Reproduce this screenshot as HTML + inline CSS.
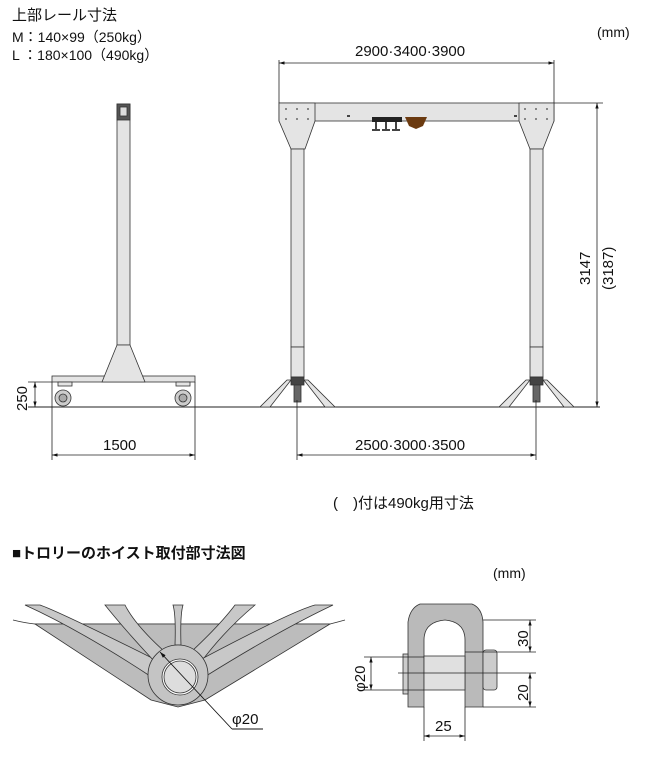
<!DOCTYPE html>
<html><head><meta charset="utf-8"><style>
html,body{margin:0;padding:0;background:#fff;}
svg{display:block;}
text{font-family:"Liberation Sans","Noto Sans CJK JP",sans-serif;fill:#111;}
</style></head><body>
<svg width="650" height="760" viewBox="0 0 650 760" xmlns="http://www.w3.org/2000/svg">
<defs>
<marker id="a" viewBox="0 0 10 10" refX="10" refY="5" markerWidth="7" markerHeight="7" orient="auto-start-reverse"><path d="M0,2 L10,5 L0,8 Z" fill="#111"/></marker>
</defs>
<text x="12" y="20" font-size="15">上部レール寸法</text>
<text x="12" y="42" font-size="14">M：140×99（250kg）</text>
<text x="12" y="60" font-size="14">L ：180×100（490kg）</text>
<text x="597" y="37" font-size="14">(mm)</text>

<line x1="28" y1="407" x2="600" y2="407" stroke="#222" stroke-width="0.9"/>

<g stroke="#333" stroke-width="0.8" fill="#e4e4e4">
<rect x="117" y="104" width="13" height="241"/>
<rect x="117" y="104" width="13" height="16" fill="#555"/>
<rect x="120" y="107" width="7" height="9" fill="#ddd"/>
<rect x="52" y="376" width="143" height="6"/>
<polygon points="117,345 130,345 145,382 102,382"/>
<rect x="58" y="382" width="14" height="4"/>
<rect x="176" y="382" width="14" height="4"/>
<circle cx="63" cy="398" r="8" fill="#ccc"/>
<circle cx="63" cy="398" r="4" fill="#aaa"/>
<circle cx="183" cy="398" r="8" fill="#ccc"/>
<circle cx="183" cy="398" r="4" fill="#aaa"/>
</g>
<g stroke="#222" stroke-width="0.8" fill="none">
<line x1="28" y1="382" x2="52" y2="382"/>
<line x1="35" y1="382" x2="35" y2="407" marker-start="url(#a)" marker-end="url(#a)"/>
<line x1="52" y1="382" x2="52" y2="460"/>
<line x1="195" y1="382" x2="195" y2="460"/>
<line x1="52" y1="455" x2="195" y2="455" marker-start="url(#a)" marker-end="url(#a)"/>
</g>
<text x="0" y="0" font-size="15" transform="translate(27,411) rotate(-90)">250</text>
<text x="103" y="450" font-size="15">1500</text>

<g stroke="#333" stroke-width="0.8" fill="#e4e4e4">
<rect x="279" y="103" width="275" height="18"/>
<polygon points="279,103 315,103 315,121 305,149 291,149 279,121"/>
<polygon points="519,103 554,103 554,121 543,149 530,149 519,121"/>
<rect x="291" y="149" width="13" height="198"/>
<rect x="530" y="149" width="13" height="198"/>
<rect x="291" y="347" width="13" height="30"/>
<rect x="530" y="347" width="13" height="30"/>
<polygon points="287,380 291,380 270,407 260,407"/>
<polygon points="304,380 308,380 335,407 325,407"/>
<polygon points="526,380 530,380 509,407 499,407"/>
<polygon points="543,380 547,380 574,407 564,407"/>
<rect x="291" y="377" width="13" height="8" fill="#444"/>
<rect x="530" y="377" width="13" height="8" fill="#444"/>
<rect x="294" y="385" width="7" height="17" fill="#666"/>
<rect x="533" y="385" width="7" height="17" fill="#666"/>
</g>
<g fill="#444">
<circle cx="286" cy="109" r="0.9"/><circle cx="297" cy="109" r="0.9"/><circle cx="308" cy="109" r="0.9"/>
<circle cx="286" cy="119" r="0.9"/><circle cx="297" cy="119" r="0.9"/><circle cx="308" cy="119" r="0.9"/>
<circle cx="525" cy="109" r="0.9"/><circle cx="536" cy="109" r="0.9"/><circle cx="547" cy="109" r="0.9"/>
<circle cx="525" cy="119" r="0.9"/><circle cx="536" cy="119" r="0.9"/><circle cx="547" cy="119" r="0.9"/>
<rect x="347" y="115" width="3" height="2"/><rect x="514" y="115" width="3" height="2"/>
<rect x="372" y="117" width="30" height="5" fill="#222"/>
<rect x="375" y="122" width="2" height="8"/><rect x="385" y="122" width="2" height="8"/><rect x="395" y="122" width="2" height="8"/>
<rect x="372" y="129" width="8" height="2"/><rect x="382" y="129" width="8" height="2"/><rect x="392" y="129" width="8" height="2"/>
<polygon points="405,117 427,117 423,126 416,129 409,126" fill="#6b3a10"/>
</g>
<g stroke="#222" stroke-width="0.8" fill="none">
<line x1="279" y1="60" x2="279" y2="103"/>
<line x1="554" y1="60" x2="554" y2="103"/>
<line x1="279" y1="63" x2="554" y2="63" marker-start="url(#a)" marker-end="url(#a)"/>
<line x1="554" y1="103" x2="603" y2="103"/>
<line x1="597" y1="103" x2="597" y2="407" marker-start="url(#a)" marker-end="url(#a)"/>
<line x1="297" y1="400" x2="297" y2="460"/>
<line x1="536" y1="400" x2="536" y2="460"/>
<line x1="297" y1="455" x2="536" y2="455" marker-start="url(#a)" marker-end="url(#a)"/>
</g>
<text x="355" y="56" font-size="15">2900·3400·3900</text>
<text x="0" y="0" font-size="15" transform="translate(590,285) rotate(-90)">3147</text>
<text x="0" y="0" font-size="15" transform="translate(613,290) rotate(-90)">(3187)</text>
<text x="355" y="450" font-size="15">2500·3000·3500</text>
<text x="333" y="508" font-size="15">(　)付は490kg用寸法</text>

<text x="12" y="558" font-size="15" font-weight="bold">■トロリーのホイスト取付部寸法図</text>
<text x="493" y="578" font-size="14">(mm)</text>

<g stroke="#333" stroke-width="0.8">
<path d="M13,620 Q25,623 35,624 L330,624 Q338,622 345,620" fill="none"/>
<polygon points="35,624 330,624 205,700 178,707 151,700" fill="#bcbcbc"/>
<path d="M25,605 L40,605 Q60,612 160,662 L150,676 Q80,630 25,605 Z" fill="#c8c8c8"/>
<path d="M105,605 L125,605 Q135,625 165,652 L155,662 Q125,630 105,605 Z" fill="#c8c8c8"/>
<path d="M173,605 L183,605 Q180,615 181,645 L175,645 Q176,615 173,605 Z" fill="#c8c8c8"/>
<path d="M235,605 L255,605 Q225,630 201,662 L191,652 Q220,625 235,605 Z" fill="#c8c8c8"/>
<path d="M315,605 L333,605 Q280,630 206,676 L196,662 Q290,612 315,605 Z" fill="#c8c8c8"/>
<circle cx="178" cy="675" r="30" fill="#c4c4c4"/>
<circle cx="180" cy="677" r="18" fill="#fff" stroke="#333"/>
<circle cx="180" cy="677" r="16" fill="#ddd"/>
</g>
<g stroke="#111" stroke-width="0.9" fill="none">
<line x1="160" y1="652" x2="232" y2="729" marker-start="url(#a)"/>
<line x1="232" y1="729" x2="263" y2="729"/>
</g>
<text x="232" y="724" font-size="15">φ20</text>

<g stroke="#333" stroke-width="0.8">
<path d="M408,707 L408,622 Q410,608 420,604 L472,604 Q482,608 483,622 L483,707 L465,707 L465,640 Q465,622 445,620 Q424,622 424,640 L424,707 Z" fill="#bababa"/>
<rect x="424" y="656" width="41" height="34" fill="#e0e0e0"/>
<rect x="403" y="654" width="5" height="40" fill="#ccc"/>
<rect x="483" y="650" width="14" height="40" rx="3" fill="#ccc"/>
</g>
<g stroke="#222" stroke-width="0.8" fill="none">
<line x1="483" y1="620" x2="536" y2="620"/>
<line x1="465" y1="652" x2="536" y2="652"/>
<line x1="398" y1="673" x2="536" y2="673"/>
<line x1="483" y1="707" x2="536" y2="707"/>
<line x1="530" y1="620" x2="530" y2="652" marker-start="url(#a)" marker-end="url(#a)"/>
<line x1="530" y1="673" x2="530" y2="707" marker-start="url(#a)" marker-end="url(#a)"/>
<line x1="364" y1="657" x2="424" y2="657"/>
<line x1="364" y1="690" x2="424" y2="690"/>
<line x1="371" y1="657" x2="371" y2="690" marker-start="url(#a)" marker-end="url(#a)"/>
<line x1="424" y1="707" x2="424" y2="741"/>
<line x1="465" y1="707" x2="465" y2="741"/>
<line x1="424" y1="736" x2="465" y2="736" marker-start="url(#a)" marker-end="url(#a)"/>
</g>
<text x="0" y="0" font-size="15" transform="translate(528,647) rotate(-90)">30</text>
<text x="0" y="0" font-size="15" transform="translate(528,701) rotate(-90)">20</text>
<text x="0" y="0" font-size="15" transform="translate(365,692) rotate(-90)">φ20</text>
<text x="435" y="731" font-size="15">25</text>
</svg>
</body></html>
